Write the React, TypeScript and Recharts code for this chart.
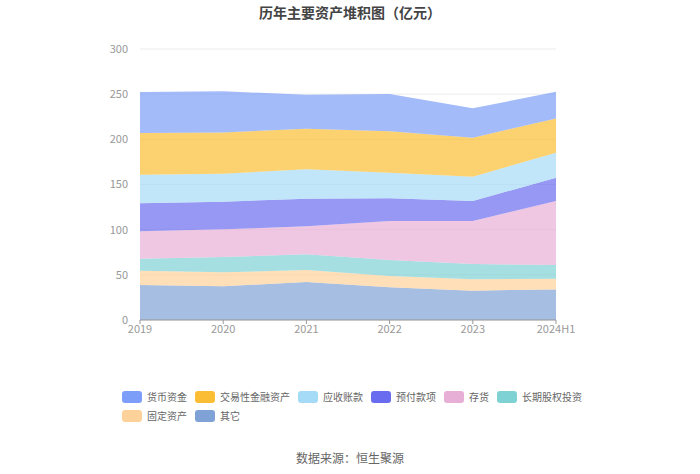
import React from "react";
import { AreaChart, Area, XAxis, YAxis, CartesianGrid } from "recharts";

const categories = ["2019", "2020", "2021", "2022", "2023", "2024H1"];
const huobi = [45.4, 45.4, 37.6, 41.3, 32.5, 29.6];
const jiaoyi = [46.1, 45.7, 45.0, 45.8, 43.1, 38.0];
const yingshou = [31.7, 31.0, 32.5, 28.4, 27.0, 27.6];
const yufu = [31.0, 30.6, 30.6, 25.1, 22.1, 25.9];
const cunhuo = [30.3, 30.7, 31.0, 43.2, 47.6, 70.8];
const changqi = [13.3, 16.9, 17.3, 17.7, 17.0, 15.1];
const guding = [15.9, 15.5, 13.3, 12.5, 12.5, 11.9];
const qita = [38.7, 37.3, 42.1, 36.2, 32.5, 33.9];
const yTicks = [0, 50, 100, 150, 200, 250, 300];

const series = [
  { key: "huobi", name: "货币资金", color: "#7d9ef8", values: huobi },
  { key: "jiaoyi", name: "交易性金融资产", color: "#fbbd33", values: jiaoyi },
  { key: "yingshou", name: "应收账款", color: "#a6dbf7", values: yingshou },
  { key: "yufu", name: "预付款项", color: "#6a6cef", values: yufu },
  { key: "cunhuo", name: "存货", color: "#e8afd6", values: cunhuo },
  { key: "changqi", name: "长期股权投资", color: "#7fd2d4", values: changqi },
  { key: "guding", name: "固定资产", color: "#fdd29a", values: guding },
  { key: "qita", name: "其它", color: "#7fa2d6", values: qita },
];

const data = categories.map((c, i) => {
  const row: any = { name: c };
  series.forEach((s) => (row[s.key] = s.values[i]));
  return row;
});

const stackOrder = [...series].reverse();
const FONT = '"Noto Sans CJK SC", "Noto Sans", sans-serif';

export default function App() {
  return (
    <div style={{ position: "absolute", left: 0, top: 0, width: 700, height: 474, background: "#fff", fontFamily: FONT }}>
      <div style={{ position: "absolute", top: 2, left: 0, width: 700, textAlign: "center", fontSize: 14, fontWeight: "bold", color: "#444" }}>
        历年主要资产堆积图（亿元）
      </div>
      <AreaChart width={700} height={474} data={data} margin={{ top: 49, right: 144, left: 0, bottom: 124 }}>
        <CartesianGrid vertical={false} stroke="#ebebeb" />
        <XAxis
          dataKey="name"
          height={30}
          tick={{ fill: "#999", fontSize: 11, fontFamily: FONT }}
          tickLine={{ stroke: "#999" }}
          axisLine={{ stroke: "#999" }}
          tickSize={4}
          tickMargin={1}
          interval={0}
        />
        <YAxis
          width={140}
          domain={[0, 300]}
          ticks={yTicks}
          tick={{ fill: "#999", fontSize: 11, fontFamily: FONT }}
          axisLine={false}
          tickLine={false}
          tickMargin={6}
        />
        {stackOrder.map((s) => (
          <Area
            key={s.key}
            type="linear"
            dataKey={s.key}
            name={s.name}
            stackId="a"
            stroke="none"
            fill={s.color}
            fillOpacity={0.7}
            isAnimationActive={false}
            dot={false}
            activeDot={false}
          />
        ))}
      </AreaChart>
      <div style={{ position: "absolute", left: 122, top: 390, width: 480, display: "flex", flexWrap: "wrap", rowGap: 6 }}>
        {series.map((s) => (
          <div key={s.key} style={{ display: "flex", alignItems: "center", marginRight: 8, height: 13 }}>
            <div style={{ width: 20, height: 12, borderRadius: 3, background: s.color, marginRight: 5 }} />
            <span style={{ fontSize: 10, color: "#666", lineHeight: "13px", whiteSpace: "nowrap" }}>{s.name}</span>
          </div>
        ))}
      </div>
      <div style={{ position: "absolute", top: 449, left: 0, width: 700, textAlign: "center", fontSize: 12, color: "#666" }}>
        数据来源：恒生聚源
      </div>
    </div>
  );
}
